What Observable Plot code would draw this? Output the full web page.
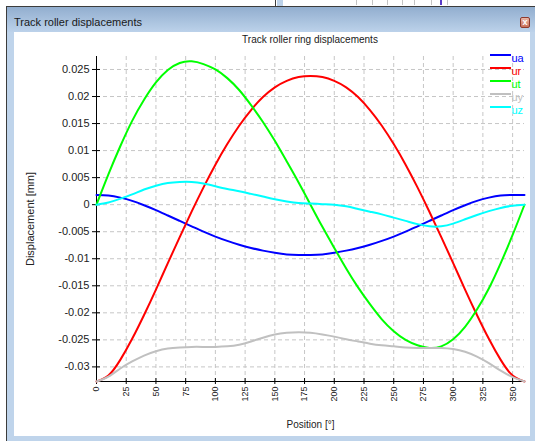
<!DOCTYPE html>
<html>
<head>
<meta charset="utf-8">
<script src="https://cdn.jsdelivr.net/npm/d3@7"></script>
<script src="https://cdn.jsdelivr.net/npm/@observablehq/plot@0.6"></script>
<style>
  html, body { margin: 0; padding: 0; background: #fff; }
  #page { position: relative; width: 535px; height: 441px; overflow: hidden;
          font-family: "Liberation Sans", Arial, sans-serif; }
  .abs { position: absolute; }
  .legend-row { position: absolute; left: 490px; height: 14px; }
  .legend-row .swatch { position: absolute; left: 0; width: 21px; height: 2px; }
  .legend-row .name { position: absolute; left: 21.5px; font-size: 11px; line-height: 11px; white-space: nowrap; }
</style>
</head>
<body>
<div id="page">
  <!-- desktop behind the dialog -->
  <div class="abs" style="left:275px;top:0;width:1px;height:6px;background:#3c3c3c"></div>
  <div class="abs" style="left:277px;top:0;width:6px;height:6px;background:#bcd2ea"></div>
  <div class="abs" style="left:356px;top:0;width:1px;height:5px;background:#c4c4c4"></div>
  <div class="abs" style="left:372px;top:0;width:1px;height:5px;background:#c4c4c4"></div>
  <div class="abs" style="left:387px;top:0;width:1px;height:5px;background:#c4c4c4"></div>
  <div class="abs" style="left:402px;top:0;width:1px;height:5px;background:#c4c4c4"></div>
  <div class="abs" style="left:414px;top:0;width:1px;height:5px;background:#c4c4c4"></div>
  <div class="abs" style="left:431px;top:0;width:1px;height:5px;background:#c4c4c4"></div>
  <div class="abs" style="left:440px;top:0;width:2px;height:5px;background:#5a3cc8"></div>
  <div class="abs" style="left:447px;top:0;width:1px;height:5px;background:#c4c4c4"></div>
  <div class="abs" style="left:7px;top:6px;width:528px;height:1px;background:#3c3c3c"></div>
  <div class="abs" style="left:6px;top:6px;width:1px;height:435px;background:#3c3c3c"></div>

  <!-- dialog frame -->
  <div class="abs" style="left:7px;top:7px;width:528px;height:434px;background:#bfd4eb"></div>
  <div class="abs" style="left:7px;top:7px;width:528px;height:25px;background:linear-gradient(#92aecf,#bcd2ea)"></div>
  <div class="abs" style="left:14px;top:17px;font-size:11px;line-height:11px;color:#1a1a1a;white-space:nowrap">Track roller displacements</div>
  <div class="abs" style="left:520px;top:17px;width:8px;height:9px;border:1px solid #8f3a2c;border-radius:2px;
       background:linear-gradient(#e9b7a8,#c9705a);color:#fff;font-size:9px;line-height:9px;text-align:center;font-weight:bold">x</div>
  <div class="abs" style="left:14px;top:32px;width:516px;height:404px;background:#fff"></div>

  <!-- chart title -->
  <div class="abs" style="left:14px;top:35px;width:592px;text-align:center;font-size:10px;line-height:10px;color:#1a1a1a;white-space:nowrap">Track roller ring displacements</div>

  <div id="chart" class="abs" style="left:0;top:0"></div>
  <div id="legend"></div>
</div>

<script>
// Angular position around the ring, degrees
const positions = [0, 10, 20, 30, 40, 50, 60, 70, 80, 90, 100, 110, 120, 130, 140, 150, 160, 170, 180,
                   190, 200, 210, 220, 230, 240, 250, 260, 270, 280, 290, 300, 310, 320, 330, 340, 350, 360];

// Ring displacement components, mm
const ua = [0.0018, 0.0017, 0.0013, 0.0007, -0.0001, -0.0010, -0.0020, -0.0030, -0.0040, -0.0050,
            -0.0059, -0.0067, -0.0074, -0.0080, -0.0085, -0.0089, -0.0092, -0.0093, -0.0093,
            -0.0092, -0.0089, -0.0085, -0.0080, -0.0074, -0.0067, -0.0059, -0.0050, -0.0040,
            -0.0030, -0.0020, -0.0010, -0.0001, 0.0007, 0.0013, 0.0017, 0.0018, 0.0018];
const ur = [-0.0327, -0.0316, -0.0287, -0.0248, -0.0204, -0.0157, -0.0108, -0.0060, -0.0013, 0.0032,
            0.0074, 0.0112, 0.0146, 0.0175, 0.0199, 0.0217, 0.0229, 0.0236, 0.0238,
            0.0236, 0.0229, 0.0217, 0.0199, 0.0175, 0.0146, 0.0112, 0.0074, 0.0032,
            -0.0013, -0.0060, -0.0108, -0.0157, -0.0204, -0.0248, -0.0287, -0.0316, -0.0327];
const ut = [0, 0.0056, 0.0108, 0.0155, 0.0194, 0.0226, 0.0249, 0.0262, 0.0265, 0.0260,
            0.0250, 0.0234, 0.0212, 0.0184, 0.0153, 0.0118, 0.0080, 0.0041, 0.0000,
            -0.0041, -0.0080, -0.0118, -0.0153, -0.0184, -0.0212, -0.0234, -0.0250, -0.0260,
            -0.0265, -0.0262, -0.0249, -0.0226, -0.0194, -0.0155, -0.0108, -0.0056, 0];
const uy = [-0.0327, -0.0318, -0.0303, -0.0290, -0.0279, -0.0271, -0.0266, -0.0264, -0.0263, -0.0263,
            -0.0263, -0.0262, -0.0259, -0.0253, -0.0246, -0.0240, -0.0237, -0.0236, -0.0237,
            -0.0240, -0.0244, -0.0249, -0.0253, -0.0257, -0.0260, -0.0262, -0.0264, -0.0265,
            -0.0265, -0.0265, -0.0267, -0.0272, -0.0281, -0.0293, -0.0307, -0.0319, -0.0327];
const uz = [0, 0.0004, 0.0011, 0.0019, 0.0028, 0.0035, 0.0040, 0.0042, 0.0042, 0.0039,
            0.0034, 0.0029, 0.0025, 0.0020, 0.0015, 0.0010, 0.0006, 0.0003, 0.0002,
            0.0001, 0.0000, -0.0003, -0.0008, -0.0013, -0.0018, -0.0024, -0.0030, -0.0036,
            -0.0040, -0.0040, -0.0035, -0.0027, -0.0019, -0.0012, -0.0006, -0.0002, 0];

const seriesNames = ["ua", "ur", "ut", "uy", "uz"];
const seriesColors = ["#0000ff", "#ff0000", "#00ff00", "#c0c0c0", "#00ffff"];
const seriesValues = [ua, ur, ut, uy, uz];

const xTicks = [0, 25, 50, 75, 100, 125, 150, 175, 200, 225, 250, 275, 300, 325, 350];
const yTicks = [-0.03, -0.025, -0.02, -0.015, -0.01, -0.005, 0, 0.005, 0.01, 0.015, 0.02, 0.025];
const xDomain = [0, 360];
const yDomain = [-0.0327, 0.0274];

const fmt = d => String(+d.toFixed(3));
const grid = {stroke: "#c6c6c6", strokeOpacity: 1, strokeDasharray: "4,3"};

const chart = Plot.plot({
  width: 535,
  height: 441,
  marginLeft: 96,
  marginRight: 11,
  marginTop: 56,
  marginBottom: 60,
  style: {background: "transparent", fontFamily: "'Liberation Sans', Arial, sans-serif", color: "#222", overflow: "visible"},
  x: {domain: xDomain},
  y: {domain: yDomain},
  marks: [
    Plot.gridX(xTicks.filter(d => d > 0), grid),
    Plot.gridY(yTicks, grid),
    Plot.ruleX([xDomain[0]], {stroke: "#000"}),
    Plot.ruleY([yDomain[0]], {stroke: "#000"}),
    Plot.axisY(yTicks, {tickSize: 4, tickPadding: 3, tickFormat: fmt, fontSize: 11, stroke: "#000",
                        label: "Displacement [mm]", labelAnchor: "center", labelOffset: 70, labelArrow: "none"}),
    Plot.axisY(yTicks, {tickSize: 4, dx: 4, tickFormat: () => "", stroke: "#000", label: null}),
    Plot.axisX(xTicks, {tickSize: 3, tickPadding: 2, tickRotate: -90, tickFormat: d => String(d), fontSize: 9,
                        stroke: "#000", label: null}),
    Plot.axisX(xTicks, {tickSize: 3, dy: -3, tickFormat: () => "", stroke: "#000", label: null}),
    Plot.axisX([], {tickSize: 0, fontSize: 10, label: "Position [°]", labelAnchor: "center", labelOffset: 46, labelArrow: "none"}),
    ...seriesValues.map((vals, i) =>
      Plot.line(vals, {x: positions, y: vals, stroke: seriesColors[i], strokeWidth: 2, curve: "natural"}))
  ]
});
document.getElementById("chart").append(chart);

// Legend in the upper right corner of the plot area
const legend = document.getElementById("legend");
seriesNames.forEach((name, i) => {
  const row = document.createElement("div");
  row.className = "legend-row";
  row.style.top = (54 + i * 12.9) + "px";
  row.innerHTML = `<div class="swatch" style="background:${seriesColors[i]}"></div>` +
                  `<div class="name" style="top:-1px;color:${seriesColors[i]}">${name}</div>`;
  legend.append(row);
});
</script>
</body>
</html>
